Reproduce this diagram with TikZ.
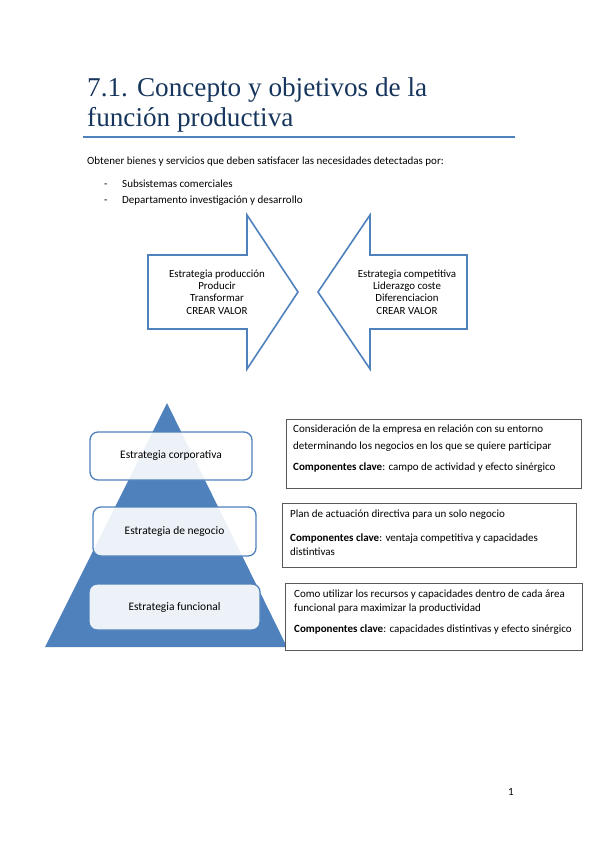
\documentclass[tikz,border=0pt]{standalone}
\usepackage{fontspec}
\setmainfont{Carlito}
\newfontfamily\titlefont{Liberation Serif}
\usetikzlibrary{positioning}
\definecolor{accent}{HTML}{4F81BD}
\definecolor{titleblue}{HTML}{17365D}
\definecolor{framegray}{HTML}{595959}

\begin{document}
\begin{tikzpicture}[x=1pt,y=-1pt,
  line/.style={anchor=west,inner sep=0pt,text height=7.5pt,text depth=2.5pt,
    font=\fontsize{11}{12}\selectfont},
  body/.style={anchor=west,inner sep=0pt,text height=7.5pt,text depth=2.5pt,
    font=\fontsize{11}{13}\selectfont},
  arrowtext/.style={align=center,inner sep=0pt,font=\fontsize{10.9}{12.4}\selectfont},
  bigarrow/.style={draw=accent,line width=1.6pt,fill=white,line join=miter},
  levelbox/.style={draw=accent,line width=1.3pt,fill=white,fill opacity=0.9,
    text opacity=1,rounded corners=8pt,inner sep=0pt,font=\fontsize{11.5}{14}\selectfont},
  infobox/.style={draw=framegray,line width=0.7pt,fill=white}]
  \useasboundingbox (0,0) rectangle (599,848);
  % title
  \node[anchor=base west,inner sep=0pt,text=titleblue,font=\titlefont\fontsize{27.2}{30}\selectfont]
    (title1) at (87,97) {7.1. Concepto y objetivos de la};
  \node[anchor=base west,inner sep=0pt,text=titleblue,font=\titlefont\fontsize{27.2}{30}\selectfont]
    (title2) at (87,127) {función productiva};
  \draw[accent,line width=1.2pt] (83,137) -- (515,137);
  % intro text
  \node[body] (intro) at (87,162) {Obtener bienes y servicios que deben satisfacer las necesidades detectadas por:};
  \node[body] (dash1) at (104,185) {-};
  \node[body] (item1) at (122,185) {Subsistemas comerciales};
  \node[body] (dash2) at (104,201) {-};
  \node[body] (item2) at (122,201) {Departamento investigación y desarrollo};
  % arrows
  \draw[bigarrow] (148,255) -- (247,255) -- (247,215) -- (298,292) -- (247,369)
    -- (247,329) -- (148,329) -- cycle;
  \draw[bigarrow] (467,255) -- (370,255) -- (370,215) -- (318,292) -- (370,369)
    -- (370,329) -- (467,329) -- cycle;
  \node[arrowtext] (prod) at (217,292) {Estrategia producción\\Producir\\Transformar\\CREAR VALOR};
  \node[arrowtext] (comp) at (407,292) {Estrategia competitiva\\Liderazgo coste\\Diferenciacion\\CREAR VALOR};
  % pyramid
  \fill[accent] (167,403) -- (287,647) -- (45,647) -- cycle;
  \node[levelbox,minimum width=162pt,minimum height=48pt] (corp) at (171,456) {Estrategia corporativa};
  \node[levelbox,minimum width=163pt,minimum height=49pt] (neg) at (174.5,531.5) {Estrategia de negocio};
  \node[levelbox,minimum width=171pt,minimum height=46pt] (func) at (174.5,607) {Estrategia funcional};
  % description boxes
  \draw[infobox] (286,419) rectangle (581,488);
  \node[line] (corpa) at (293,430) {Consideración de la empresa en relación con su entorno};
  \node[line] (corpb) at (293,447) {determinando los negocios en los que se quiere participar};
  \node[line] (corpc) at (293,468) {\textbf{Componentes clave}: campo de actividad y efecto sinérgico};
  \draw[infobox] (282,503) rectangle (576,567);
  \node[line] (nega) at (290,515) {Plan de actuación directiva para un solo negocio};
  \node[line] (negb) at (290,539) {\textbf{Componentes clave}: ventaja competitiva y capacidades};
  \node[line] (negc) at (290,553) {distintivas};
  \draw[infobox] (285,583) rectangle (582,650);
  \node[line] (funca) at (294,595) {Como utilizar los recursos y capacidades dentro de cada área};
  \node[line] (funcb) at (294,609) {funcional para maximizar la productividad};
  \node[line] (funcc) at (294,630) {\textbf{Componentes clave}: capacidades distintivas y efecto sinérgico};
  % page number
  \node[body] (page) at (508,793) {1};
\end{tikzpicture}
\end{document}
